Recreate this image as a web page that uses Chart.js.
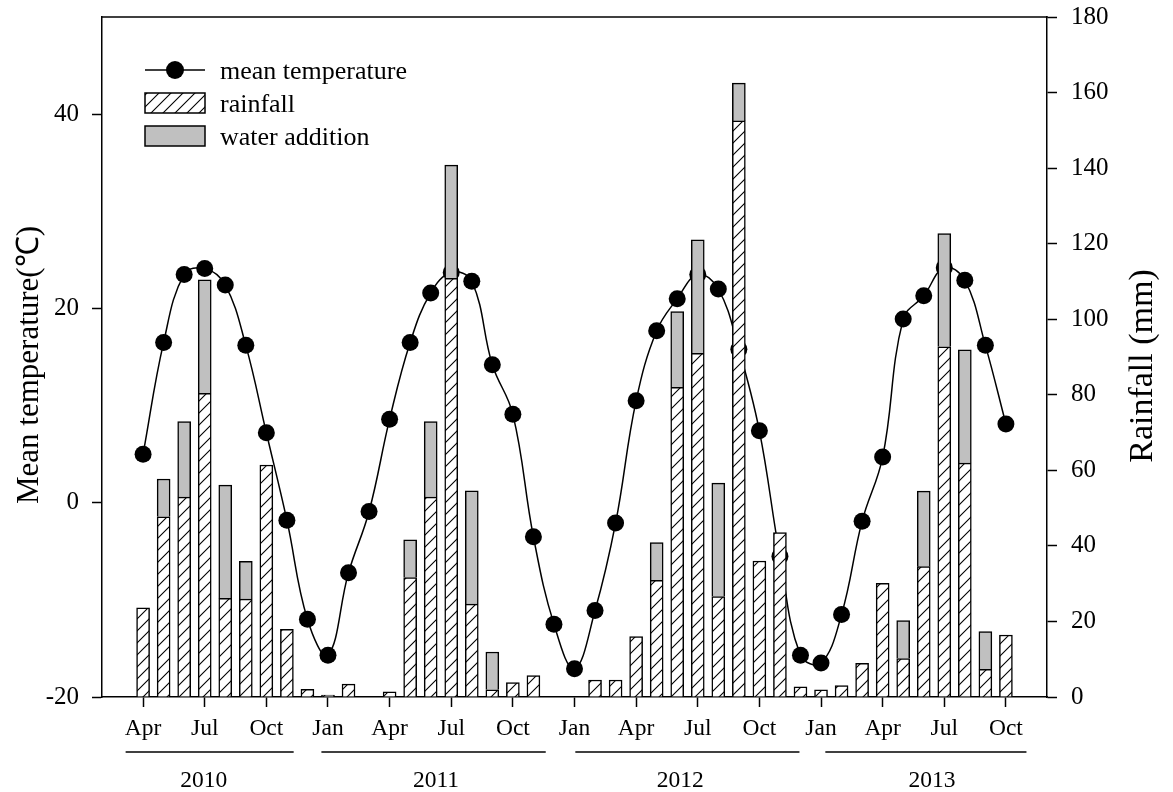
<!doctype html>
<html lang="en">
<head>
<meta charset="utf-8">
<title>Mean temperature and rainfall</title>
<script src="https://cdn.jsdelivr.net/npm/chart.js"></script>
<style>
    body { margin: 0; background: #fff; }
</style>
</head>
<body>
<canvas id="myChart" width="1173" height="792"></canvas>

<script>
    // monthly series, Apr 2010 - Oct 2013
    const months = [
        'Apr 2010', 'May 2010', 'Jun 2010', 'Jul 2010', 'Aug 2010', 'Sep 2010', 'Oct 2010', 'Nov 2010', 'Dec 2010',
        'Jan 2011', 'Feb 2011', 'Mar 2011', 'Apr 2011', 'May 2011', 'Jun 2011', 'Jul 2011', 'Aug 2011', 'Sep 2011', 'Oct 2011', 'Nov 2011', 'Dec 2011',
        'Jan 2012', 'Feb 2012', 'Mar 2012', 'Apr 2012', 'May 2012', 'Jun 2012', 'Jul 2012', 'Aug 2012', 'Sep 2012', 'Oct 2012', 'Nov 2012', 'Dec 2012',
        'Jan 2013', 'Feb 2013', 'Mar 2013', 'Apr 2013', 'May 2013', 'Jun 2013', 'Jul 2013', 'Aug 2013', 'Sep 2013', 'Oct 2013'
    ];

    const meanTemperature = [
        5.0, 16.5, 23.5, 24.1, 22.4, 16.2, 7.2, -1.8, -12.0,
        -15.7, -7.2, -0.9, 8.6, 16.5, 21.6, 23.7, 22.8, 14.2, 9.1, -3.5, -12.5,
        -17.1, -11.1, -2.1, 10.5, 17.7, 21.0, 23.5, 22.0, 15.8, 7.4, -5.5, -15.7,
        -16.5, -11.5, -1.9, 4.7, 18.9, 21.3, 24.2, 22.9, 16.2, 8.1
    ];

    const rainfall = [
        23.6, 47.7, 52.9, 80.4, 26.1, 25.9, 61.4, 17.9, 2.0,
        0.5, 3.4, 0, 1.4, 31.6, 52.9, 110.8, 24.6, 1.9, 3.8, 5.7, 0,
        0, 4.5, 4.5, 16.0, 30.9, 82.0, 91.0, 26.6, 152.5, 36.0, 43.5, 2.7,
        1.9, 3.0, 8.9, 30.1, 10.2, 34.5, 92.7, 61.9, 7.3, 16.4
    ];

    const waterAddition = [
        null, 10, 20, 30, 30, 10, null, null, null,
        null, null, null, null, 10, 20, 30, 30, 10, null, null, null,
        null, null, null, null, 10, 20, 30, 30, 10, null, null, null,
        null, null, null, null, 10, 20, 30, 30, 10, null
    ];

    const tickLabels = ['Apr', 'Jul', 'Oct', 'Jan', 'Apr', 'Jul', 'Oct', 'Jan', 'Apr', 'Jul', 'Oct', 'Jan', 'Apr', 'Jul', 'Oct'];
    const years = ['2010', '2011', '2012', '2013'];
    const tempTicks = [-20, 0, 20, 40];
    const rainTicks = [0, 20, 40, 60, 80, 100, 120, 140, 160, 180];

    const tickIndex = months.map((m, i) => i).filter(i => /^(Jan|Apr|Jul|Oct)/.test(months[i]));
</script>

<script>
    const serif = '"Liberation Serif", "Times New Roman", serif';
    Chart.defaults.color = '#000';
    Chart.defaults.font.family = serif;

    const canvas = document.getElementById('myChart');
    const ctx = canvas.getContext('2d');

    function hatchPattern() {
        const c = document.createElement('canvas');
        c.width = 12;
        c.height = 12;
        const g = c.getContext('2d');
        g.fillStyle = '#fff';
        g.fillRect(0, 0, 12, 12);
        g.strokeStyle = '#000';
        g.lineWidth = 1.1;
        g.beginPath();
        g.moveTo(0, 12); g.lineTo(12, 0);
        g.moveTo(-6, 6); g.lineTo(6, -6);
        g.moveTo(6, 18); g.lineTo(18, 6);
        g.stroke();
        return ctx.createPattern(c, 'repeat');
    }
    const hatch = hatchPattern();

    // legend, frame top, rotated axis titles and the year rules under the axis
    const extras = {
        id: 'extras',
        afterDraw(chart) {
            const {ctx, chartArea: a, scales: {x}} = chart;
            const ds = chart.data.datasets;
            ctx.save();
            ctx.strokeStyle = '#000';
            ctx.lineWidth = 1.5;
            ctx.beginPath();
            ctx.moveTo(a.left - 0.75, a.top);
            ctx.lineTo(a.right + 0.75, a.top);
            ctx.stroke();

            // legend
            ctx.beginPath();
            ctx.moveTo(145, 70);
            ctx.lineTo(205, 70);
            ctx.stroke();
            ctx.fillStyle = '#000';
            ctx.beginPath();
            ctx.arc(175, 70, 9, 0, Math.PI * 2);
            ctx.fill();
            ctx.fillStyle = ds[1].backgroundColor;
            ctx.fillRect(145, 93, 60, 20);
            ctx.strokeRect(145, 93, 60, 20);
            ctx.fillStyle = ds[2].backgroundColor;
            ctx.fillRect(145, 126, 60, 20);
            ctx.strokeRect(145, 126, 60, 20);
            ctx.fillStyle = '#000';
            ctx.font = '26px ' + serif;
            ctx.textAlign = 'left';
            ctx.textBaseline = 'alphabetic';
            ctx.fillText(ds[0].label, 220, 79);
            ctx.fillText(ds[1].label, 220, 112);
            ctx.fillText(ds[2].label, 220, 145);

            // axis titles (both read bottom to top)
            ctx.textAlign = 'center';
            ctx.save();
            ctx.font = '31px ' + serif;
            ctx.translate(38, 365);
            ctx.rotate(-Math.PI / 2);
            ctx.fillText('Mean temperature(\u2103)', 0, 0);
            ctx.restore();
            ctx.save();
            ctx.font = '34px ' + serif;
            ctx.translate(1152, 366);
            ctx.rotate(-Math.PI / 2);
            ctx.fillText('Rainfall (mm)', 0, 0);
            ctx.restore();

            // years
            const spans = [[-0.85, 7.33, 2.95], [8.68, 19.6, 14.26], [21.04, 31.95, 26.15], [33.21, 43.0, 38.4]];
            ctx.lineWidth = 1.3;
            ctx.font = '23.5px ' + serif;
            years.forEach((yr, i) => {
                const [s, e, c] = spans[i];
                ctx.beginPath();
                ctx.moveTo(x.getPixelForValue(s), 752);
                ctx.lineTo(x.getPixelForValue(e), 752);
                ctx.stroke();
                ctx.fillText(yr, x.getPixelForValue(c), 787);
            });
            ctx.restore();
        }
    };

    const toPoints = arr => arr.map((v, i) => ({x: i, y: v}));

    // fixed axis boxes so the plot frame sits where the original has it
    const fixWidth = w => s => {
        s.width = w;
        s.paddingTop = 0;
        s.paddingBottom = 0;
    };

    const myChart = new Chart(ctx, {
        type: 'bar',
        data: {
            datasets: [{
                type: 'line',
                label: 'mean temperature',
                data: toPoints(meanTemperature),
                yAxisID: 'y',
                borderColor: '#000',
                borderWidth: 1.5,
                tension: 0.4,
                pointRadius: 8.5,
                pointBackgroundColor: '#000',
                pointBorderWidth: 0,
                order: 3
            }, {
                label: 'rainfall',
                data: toPoints(rainfall),
                yAxisID: 'y1',
                stack: 'rain',
                backgroundColor: hatch,
                borderColor: '#000',
                borderWidth: 1.5,
                barThickness: 13,
                order: 1
            }, {
                label: 'water addition',
                data: toPoints(waterAddition),
                yAxisID: 'y1',
                stack: 'rain',
                backgroundColor: '#c0c0c0',
                borderColor: '#000',
                borderWidth: 1.5,
                barThickness: 13,
                order: 2
            }]
        },
        options: {
            responsive: false,
            animation: false,
            layout: {padding: {top: 17, left: 0, right: 0, bottom: 0}},
            plugins: {legend: {display: false}, tooltip: {enabled: false}},
            scales: {
                x: {
                    type: 'linear',
                    min: -2,
                    max: 44,
                    offset: false,
                    afterBuildTicks: s => { s.ticks = tickIndex.map(v => ({value: v})); },
                    afterFit: s => { s.height = 95; s.paddingLeft = 0; s.paddingRight = 0; },
                    grid: {drawOnChartArea: false, offset: false, tickLength: 10, tickColor: '#000', tickWidth: 1.5},
                    border: {color: '#000', width: 1.5},
                    ticks: {
                        autoSkip: false, maxRotation: 0, padding: 8,
                        font: {size: 23.5},
                        callback: (v, i) => tickLabels[i]
                    }
                },
                y: {
                    position: 'left',
                    min: -20,
                    max: 50,
                    afterBuildTicks: s => { s.ticks = tempTicks.map(v => ({value: v})); },
                    afterFit: fixWidth(102),
                    grid: {drawOnChartArea: false, tickLength: 10, tickColor: '#000', tickWidth: 1.5},
                    border: {color: '#000', width: 1.5},
                    ticks: {padding: 13, font: {size: 25}}
                },
                y1: {
                    position: 'right',
                    min: 0,
                    max: 180,
                    stacked: true,
                    afterBuildTicks: s => { s.ticks = rainTicks.map(v => ({value: v})); },
                    afterFit: fixWidth(126),
                    grid: {drawOnChartArea: false, tickLength: 10, tickColor: '#000', tickWidth: 1.5},
                    border: {color: '#000', width: 1.5},
                    ticks: {padding: 14, font: {size: 25}}
                }
            }
        },
        plugins: [extras]
    });
</script>
</body>
</html>
